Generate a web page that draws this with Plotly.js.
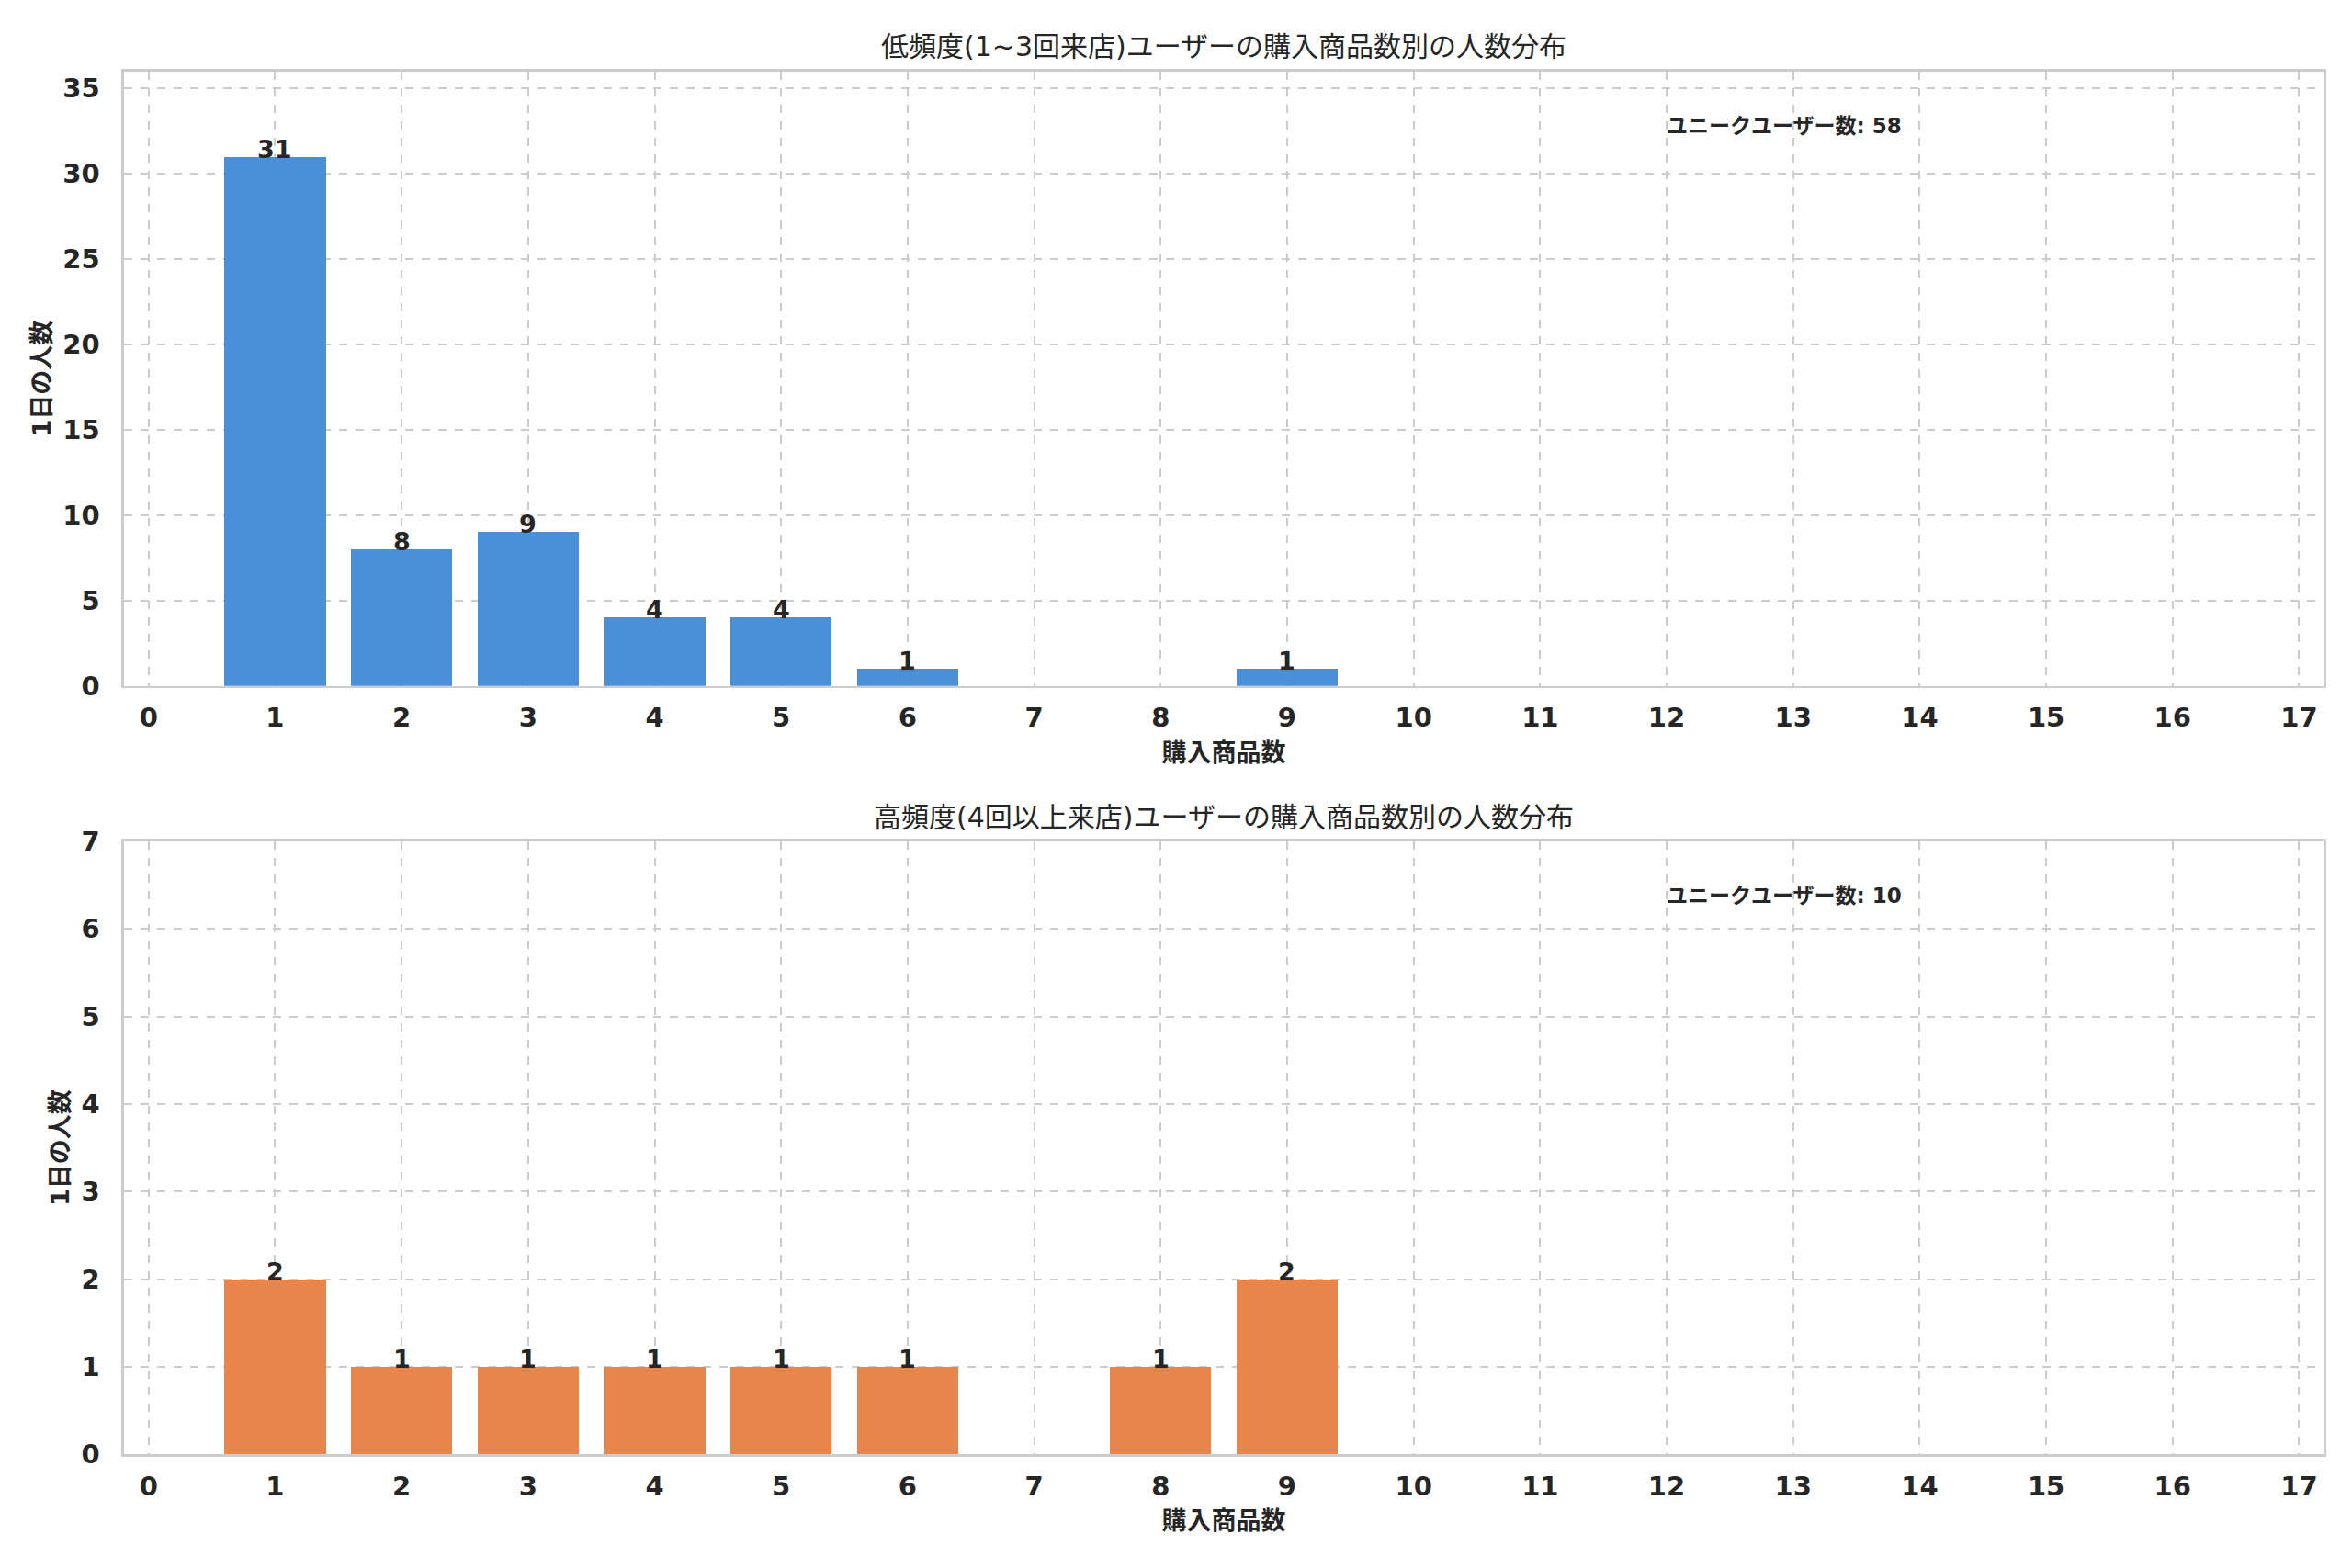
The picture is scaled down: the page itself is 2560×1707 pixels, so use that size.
<!DOCTYPE html>
<html>
<head>
<meta charset="utf-8">
<script src="https://cdn.plot.ly/plotly-3.0.1.min.js"></script>
<style>html,body{margin:0;padding:0;background:#fff;}#chart{width:2560px;height:1707px;}</style>
</head>
<body>
<div id="chart"></div>
<script>
// ---- data ----
const lowCats = [1, 2, 3, 4, 5, 6, 9];
const lowValues = [31, 8, 9, 4, 4, 1, 1];
const highCats = [1, 2, 3, 4, 5, 6, 8, 9];
const highValues = [2, 1, 1, 1, 1, 1, 1, 2];
const xTicks = [0,1,2,3,4,5,6,7,8,9,10,11,12,13,14,15,16,17];
const lowTitle = "低頻度(1~3回来店)ユーザーの購入商品数別の人数分布";
const highTitle = "高頻度(4回以上来店)ユーザーの購入商品数別の人数分布";
const xLabel = "購入商品数";
const yLabel = "1日の人数";
const noteLabel = "ユニークユーザー数";

const FONT = "DejaVu Sans, 'Noto Sans CJK JP', sans-serif";
const TXT = "#262626";
const sum = a => a.reduce((s, v) => s + v, 0);

const traces = [
  {type: 'bar', x: lowCats, y: lowValues, width: 0.8, xaxis: 'x', yaxis: 'y',
   marker: {color: '#4A90D9', line: {width: 0}}, hoverinfo: 'x+y'},
  {type: 'bar', x: highCats, y: highValues, width: 0.8, xaxis: 'x2', yaxis: 'y2',
   marker: {color: '#E8854A', line: {width: 0}}, hoverinfo: 'x+y'}
];

const annotations = [];
function barLabels(cats, vals, xr, yr) {
  cats.forEach((c, i) => annotations.push({
    x: c, y: vals[i], xref: xr, yref: yr, text: String(vals[i]), showarrow: false,
    xanchor: 'center', yanchor: 'bottom', yshift: -8, borderpad: 0,
    font: {family: FONT, size: 27, color: TXT, weight: 'bold'}
  }));
}
barLabels(lowCats, lowValues, 'x', 'y');
barLabels(highCats, highValues, 'x2', 'y2');

annotations.push({x: 0.5203, y: 0.9707, xref: 'paper', yref: 'paper', text: lowTitle, showarrow: false,
  xanchor: 'center', yanchor: 'middle', font: {family: FONT, size: 30, color: TXT}});
annotations.push({x: 0.5203, y: 0.4792, xref: 'paper', yref: 'paper', text: highTitle, showarrow: false,
  xanchor: 'center', yanchor: 'middle', font: {family: FONT, size: 30, color: TXT}});
annotations.push({x: 0.7078, y: 0.9197, xref: 'paper', yref: 'paper', text: noteLabel + ': ' + sum(lowValues),
  showarrow: false, xanchor: 'left', yanchor: 'middle', font: {family: FONT, size: 23, color: TXT, weight: 'bold'}});
annotations.push({x: 0.7078, y: 0.4288, xref: 'paper', yref: 'paper', text: noteLabel + ': ' + sum(highValues),
  showarrow: false, xanchor: 'left', yanchor: 'middle', font: {family: FONT, size: 23, color: TXT, weight: 'bold'}});

function xAxis(domainAnchor) {
  return {
    domain: [0.0527, 0.988], anchor: domainAnchor, range: [-0.195, 17.195],
    tickmode: 'array', tickvals: xTicks, ticktext: xTicks.map(String),
    showgrid: true, gridcolor: '#cccccc', gridwidth: 2, griddash: 'dash',
    showline: true, mirror: true, linecolor: '#cccccc', linewidth: 2.5,
    zeroline: false, ticks: '', ticklabelstandoff: 7,
    tickfont: {family: FONT, size: 29, color: TXT, weight: 'bold'},
    title: {text: xLabel, standoff: 13, font: {family: FONT, size: 27, color: TXT, weight: 'bold'}},
    automargin: false, fixedrange: true
  };
}
function yAxis(domain, domainAnchor, range, dtick) {
  return {
    domain: domain, anchor: domainAnchor, range: range, dtick: dtick, tick0: 0,
    showgrid: true, gridcolor: '#cccccc', gridwidth: 2, griddash: 'dash',
    showline: true, mirror: true, linecolor: '#cccccc', linewidth: 2.5,
    zeroline: false, ticks: '', ticklabelstandoff: 18,
    tickfont: {family: FONT, size: 29, color: TXT, weight: 'bold'},
    title: {text: yLabel, standoff: 5, font: {family: FONT, size: 27, color: TXT, weight: 'bold'}},
    automargin: false, fixedrange: true
  };
}

const layout = {
  width: 2560, height: 1707,
  margin: {l: 0, r: 0, t: 0, b: 0},
  paper_bgcolor: '#ffffff', plot_bgcolor: '#ffffff',
  showlegend: false, bargap: 0,
  font: {family: FONT, color: TXT},
  xaxis: xAxis('y'),
  yaxis: yAxis([0.5626, 0.9545], 'x', [0, 36], 5),
  xaxis2: xAxis('y2'),
  yaxis2: yAxis([0.0725, 0.4634], 'x2', [0, 7], 1),
  annotations: annotations
};

Plotly.newPlot('chart', traces, layout, {displayModeBar: false, staticPlot: true});
</script>
</body>
</html>
